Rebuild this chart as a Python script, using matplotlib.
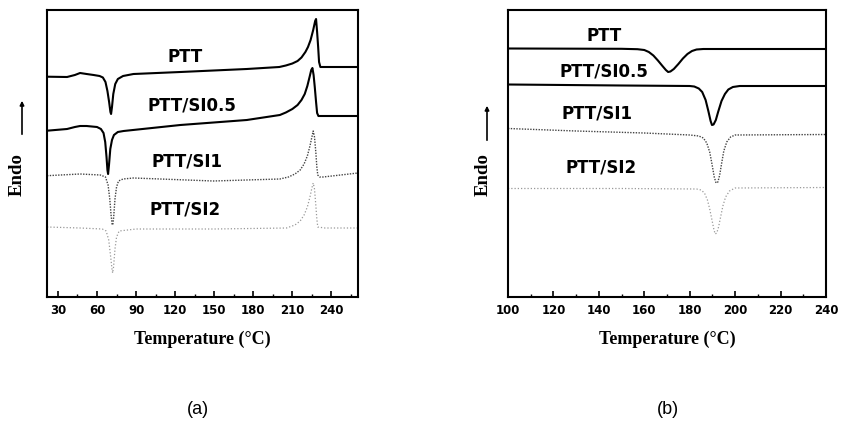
import matplotlib
matplotlib.use("Agg")
import matplotlib.pyplot as plt
from matplotlib.patches import FancyArrowPatch
from matplotlib.ticker import MultipleLocator

# (a) heating scans: temperature (C) and heat flow (arb. units, endo up)
a_ptt_t = [21.6, 37, 43, 47, 52, 57.4, 62, 64.5, 66.5, 68, 69.3, 70.3, 70.8, 71.5, 72.5, 74, 76, 80, 88,
           124, 175, 200, 205, 210, 214, 217, 220, 222, 224, 226, 227.5, 228.2, 229, 229.8, 230.5, 231.5, 260.4]
a_ptt_y = [220.3, 220, 222, 224, 223, 222, 221, 219.5, 215, 206, 195, 185, 183, 190, 203, 213, 218, 221, 223,
           225, 228, 230, 231.5, 233.5, 236, 239.5, 245, 250, 257, 267, 276, 278, 265, 250, 235, 230, 230]

a_si05_t = [21.6, 37, 43, 47, 52, 60, 63, 65, 66.3, 67.3, 68, 68.5, 69.2, 70.2, 71.5, 73, 76, 80.4, 124,
            175, 200.4, 205, 210, 214, 217, 219.5, 221.5, 223.4, 224.5, 225.4, 226.3, 227.2, 228.2, 229, 230, 260.4]
a_si05_y = [166.3, 168, 170, 171, 171, 170, 168, 164, 155, 140, 127, 123, 132, 148, 157, 162, 165, 166, 172,
            177, 182, 184.5, 188, 192, 197, 203, 211, 221, 227, 229, 222, 210, 195, 184, 181, 181]

a_si1_t = [21.6, 47, 62.5, 66.5, 68.5, 69.8, 70.8, 71.6, 72.1, 72.8, 73.8, 75, 76.5, 80, 88, 149.3,
           200.4, 207, 212, 216, 219, 221.5, 223.5, 225, 226, 227, 228, 228.8, 229.5, 231, 233.6, 260.4]
a_si1_y = [121.3, 123, 122, 120, 112, 98, 82, 73, 72, 80, 98, 110, 116, 118, 119, 116,
           118, 120, 123, 127, 133, 141, 151, 160, 166, 160, 145, 130, 122, 120, 120, 124]

a_si2_t = [21.6, 47, 64, 67, 69, 70.5, 71.5, 72, 72.7, 73.8, 75, 77, 90, 150,
           205.5, 212, 216, 219, 221.5, 223.5, 225, 226, 227, 228, 228.8, 229.5, 235, 260.4]
a_si2_y = [70, 69, 68, 66, 57, 40, 28, 24, 30, 48, 60, 66, 68, 68,
           69, 72, 76, 82, 90, 100, 109, 114, 108, 92, 78, 70, 69, 69]

# (b) cooling scans
b_ptt_t = [100, 150, 157, 160, 162, 164, 166, 168, 169.5, 170.5, 171.5, 173, 175, 177, 179, 181, 183, 186, 240]
b_ptt_y = [248.5, 248.2, 247.8, 247, 245, 241.5, 236.5, 231, 227, 225, 225.5, 228, 233, 238.5, 243, 246, 247.5, 248, 248]

b_si05_t = [100, 150, 180, 182, 184, 185.5, 187, 188.2, 189.2, 189.8, 190.5, 191.5, 192.5, 194, 195.5, 197, 199, 202, 240]
b_si05_y = [212.5, 211.5, 211, 210.5, 208.5, 205, 197, 186, 176, 172, 172.5, 177, 185, 196, 203, 207.5, 210, 211, 211]

b_si1_t = [100, 130, 160, 180, 184, 186, 187.5, 188.8, 189.8, 190.8, 191.6, 192.4, 193.2, 194, 195, 196.3, 198, 200, 240]
b_si1_y = [168.5, 166, 164, 162, 161, 159, 154, 145, 133, 120, 114, 115, 122, 133, 146, 155, 160, 162, 162.5]

b_si2_t = [100, 150, 183, 185, 186.5, 187.8, 188.8, 189.8, 190.6, 191.2, 191.9, 192.7, 193.6, 194.6, 195.8, 197.5, 200, 240]
b_si2_y = [108.5, 108.5, 108, 107, 104, 97, 88, 77, 68, 63, 64, 70, 80, 91, 100, 106, 109, 109.5]

names = ["PTT", "PTT/SI0.5", "PTT/SI1", "PTT/SI2"]
a_label_pos = [(127.3, 240), (132.7, 192), (128.9, 135), (127.3, 87)]
b_label_pos = [(142.3, 261), (142.3, 225), (139.2, 184), (141, 129)]

styles = [
    dict(color="black", lw=1.5, ls="-"),
    dict(color="black", lw=1.5, ls="-"),
    dict(color="#444444", lw=1.0, ls=(0, (1, 1))),
    dict(color="#999999", lw=0.9, ls=(0, (1, 1.6))),
]

fig = plt.figure(figsize=(8.42, 4.32), dpi=100)
ax1 = fig.add_axes([47 / 842, 135 / 432, 311 / 842, 287 / 432])
ax2 = fig.add_axes([508 / 842, 135 / 432, 318 / 842, 287 / 432])

a_curves = [(a_ptt_t, a_ptt_y), (a_si05_t, a_si05_y), (a_si1_t, a_si1_y), (a_si2_t, a_si2_y)]
b_curves = [(b_ptt_t, b_ptt_y), (b_si05_t, b_si05_y), (b_si1_t, b_si1_y), (b_si2_t, b_si2_y)]

for ax, curves, pos in [(ax1, a_curves, a_label_pos), (ax2, b_curves, b_label_pos)]:
    for (t, y), st, name, (lx, ly) in zip(curves, styles, names, pos):
        ax.plot(t, y, solid_joinstyle="round", **st)
        ax.text(lx, ly, name, ha="center", va="center", fontsize=12,
                fontweight="bold", family="DejaVu Sans")
    ax.set_ylim(0, 287)
    ax.set_yticks([])
    for sp in ax.spines.values():
        sp.set_linewidth(1.5)
    ax.tick_params(axis="x", which="both", direction="in", top=False, pad=5)
    ax.tick_params(axis="x", which="major", length=4, width=1.2)
    ax.tick_params(axis="x", which="minor", length=2.5, width=1.0)
    ax.set_xlabel("Temperature (°C)", family="Liberation Serif", fontweight="bold",
                  fontsize=13, labelpad=10)

ax1.set_xlim(21.6, 260.4)
ax1.xaxis.set_major_locator(MultipleLocator(30))
ax1.xaxis.set_minor_locator(MultipleLocator(15))
ax1.set_xticks([30, 60, 90, 120, 150, 180, 210, 240])

ax2.set_xlim(100, 240)
ax2.xaxis.set_major_locator(MultipleLocator(20))
ax2.xaxis.set_minor_locator(MultipleLocator(10))

for ax in (ax1, ax2):
    for lab in ax.get_xticklabels():
        lab.set_fontsize(8.5)
        lab.set_fontweight("bold")
        lab.set_family("DejaVu Sans")

# y labels with the "endo up" arrow
for x_txt, x_arr, y0, y1 in [(17, 22, 137, 98), (483, 487, 143, 103)]:
    fig.text(x_txt / 842, (432 - 175) / 432, "Endo", rotation=90, ha="center", va="center",
             family="Liberation Serif", fontweight="bold", fontsize=13.5)
    fig.add_artist(FancyArrowPatch(
        (x_arr / 842, (432 - y0) / 432), (x_arr / 842, (432 - y1) / 432),
        transform=fig.transFigure, arrowstyle="-|>", mutation_scale=6, lw=1.2, color="black"))

fig.text(198 / 842, (432 - 410) / 432, "(a)", ha="center", va="center",
         family="Liberation Sans", fontsize=13)
fig.text(668 / 842, (432 - 410) / 432, "(b)", ha="center", va="center",
         family="Liberation Sans", fontsize=13)

fig.savefig("out.png", dpi=100)
